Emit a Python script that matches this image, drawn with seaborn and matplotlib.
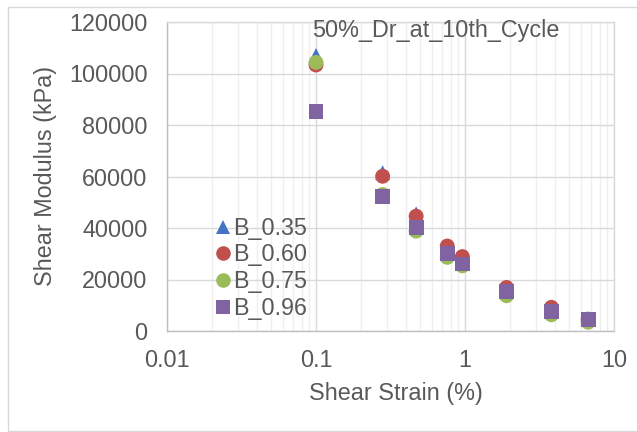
import matplotlib
matplotlib.use("Agg")
import matplotlib.pyplot as plt
from matplotlib.ticker import LogLocator, FixedLocator, NullFormatter, FixedFormatter
from matplotlib.patches import Rectangle
import seaborn as sns
import pandas as pd

# Shear strain (%) at which the modulus was evaluated
strain = [0.1, 0.28, 0.47, 0.76, 0.96, 1.9, 3.8, 6.7]

# Shear modulus (kPa) for each B value
g_b035 = [107000, 61500, 45500, 31500, 27000, 15500, 8000, 4500]
g_b060 = [103300, 60100, 44600, 33000, 28900, 16900, 9200, 4600]
g_b075 = [104300, 53000, 38800, 28600, 25300, 13700, 6300, 3400]
g_b096 = [85200, 52400, 40100, 30000, 26000, 15200, 7600, 4600]

series_names = ["B_0.35", "B_0.60", "B_0.75", "B_0.96"]
series_vals = [g_b035, g_b060, g_b075, g_b096]

y_ticks = [0, 20000, 40000, 60000, 80000, 100000, 120000]
x_ticks = [0.01, 0.1, 1, 10]
x_tick_labels = ["0.01", "0.1", "1", "10"]

title_text = "50%_Dr_at_10th_Cycle"
x_label = "Shear Strain (%)"
y_label = "Shear Modulus (kPa)"

rows = []
for name, vals in zip(series_names, series_vals):
    for s, g in zip(strain, vals):
        rows.append({"strain": s, "modulus": g, "series": name})
df = pd.DataFrame(rows)

sns.set_style("white")
plt.rcParams["font.family"] = ["Liberation Sans", "DejaVu Sans"]

fs = 16.8
text_color = "#595959"
palette = {"B_0.35": "#4472C4", "B_0.60": "#C0504D",
           "B_0.75": "#9BBB59", "B_0.96": "#8064A2"}
markers = {"B_0.35": "^", "B_0.60": "o", "B_0.75": "o", "B_0.96": "s"}

fig = plt.figure(figsize=(6.37, 4.32), dpi=100)
fig.patch.set_facecolor("white")
# outer chart frame
fig.add_artist(Rectangle((8 / 637, 1 / 432), 640 / 637, 424 / 432,
                         transform=fig.transFigure, fill=False,
                         edgecolor="#D9D9D9", linewidth=1.0))

ax = fig.add_axes([167 / 637, 1 - 331 / 432, 447 / 637, 309 / 432])

sns.scatterplot(data=df, x="strain", y="modulus", hue="series", style="series",
                palette=palette, markers=markers, hue_order=series_names,
                style_order=series_names, s=115, linewidth=0, ax=ax,
                legend=False, zorder=3)

ax.set_xscale("log")
ax.set_xlim(0.01, 10)
ax.set_ylim(0, 120000)

ax.xaxis.set_major_locator(FixedLocator(x_ticks))
ax.xaxis.set_major_formatter(FixedFormatter(x_tick_labels))
ax.xaxis.set_minor_locator(LogLocator(base=10, subs=range(2, 10)))
ax.xaxis.set_minor_formatter(NullFormatter())
ax.set_yticks(y_ticks)
ax.set_yticklabels([str(v) for v in y_ticks])

ax.grid(True, which="major", axis="both", color="#D9D9D9", linewidth=1.0, zorder=0)
ax.grid(True, which="minor", axis="x", color="#EFEFEF", linewidth=1.0, zorder=0)
ax.set_axisbelow(True)

for side in ["left", "bottom"]:
    ax.spines[side].set_color("#BFBFBF")
    ax.spines[side].set_linewidth(1.0)
for side in ["top", "right"]:
    ax.spines[side].set_color("#D9D9D9")
    ax.spines[side].set_linewidth(1.0)

ax.tick_params(axis="both", which="both", length=0, labelsize=fs,
               labelcolor=text_color)
ax.tick_params(axis="y", pad=14)
ax.tick_params(axis="x", pad=13)

ax.set_xlabel(x_label, fontsize=fs, color=text_color)
ax.set_ylabel(y_label, fontsize=fs, color=text_color)
ax.xaxis.set_label_coords(0.512, -0.2233)
ax.xaxis.label.set_va("baseline")
ax.yaxis.set_label_coords(-0.272, 0.502)
ax.yaxis.label.set_va("center")

ax.text(0.6007, 0.9505, title_text, transform=ax.transAxes, ha="center",
        va="baseline", fontsize=fs, color=text_color)

# legend built from the same colours and marker shapes
handles = [plt.Line2D([], [], linestyle="none", marker=markers[n],
                      markersize=10.5, markerfacecolor=palette[n],
                      markeredgewidth=0) for n in series_names]
leg = ax.legend(handles, series_names, loc="upper left",
                bbox_to_anchor=(0.11, 0.37), frameon=False, fontsize=fs,
                handlelength=0.6, handletextpad=0.12, labelspacing=0.16,
                borderaxespad=0, borderpad=0)
for t in leg.get_texts():
    t.set_color(text_color)

fig.savefig("out.png", dpi=100, facecolor="white")
